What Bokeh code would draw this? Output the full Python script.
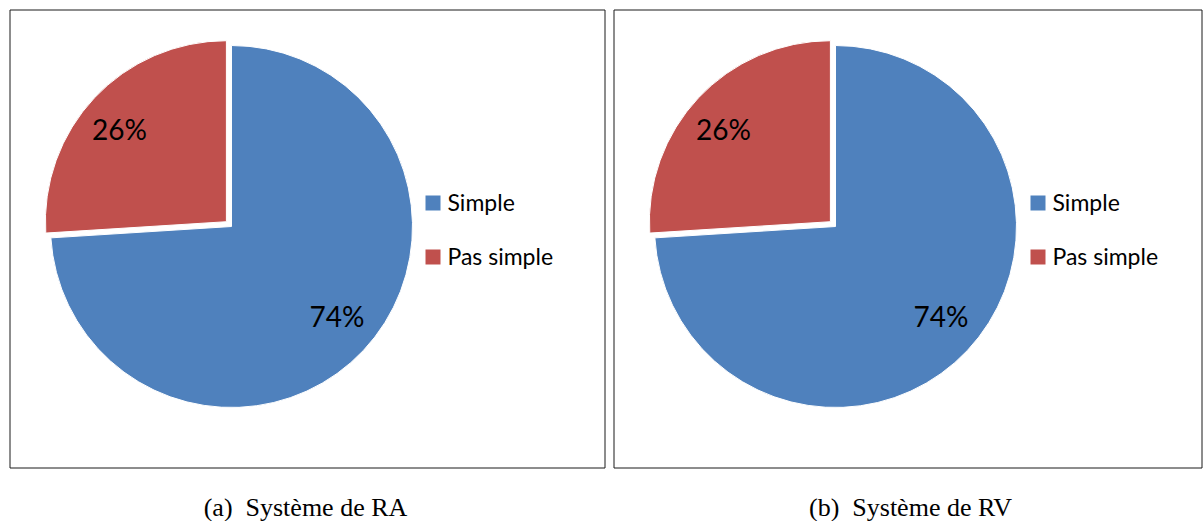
import math
from bokeh.plotting import figure
from bokeh.models import Range1d
from bokeh.core.properties import value
from bokeh.embed import file_html
from bokeh.resources import INLINE

# ---- data ----
categories = ["Simple", "Pas simple"]
values_ra = [74, 26]
values_rv = [74, 26]
labels_ra = ["74%", "26%"]
labels_rv = ["74%", "26%"]
colors = ["#4F81BD", "#C0504D"]
captions = ["(a)\u00a0\u00a0Système de RA", "(b)\u00a0\u00a0Système de RV"]

W, H = 1203, 521

def X(px):
    return px

def Y(py):
    return H - py

p = figure(width=W, height=H, x_range=Range1d(0, W), y_range=Range1d(0, H),
           output_backend="svg", toolbar_location=None, min_border=0)
p.axis.visible = False
p.grid.visible = False
p.outline_line_color = None
p.background_fill_color = "white"
p.border_fill_color = "white"

panels = [
    dict(left=9.5, right=604.5, cx=231, cy=226, vals=values_ra, labs=labels_ra,
         lab_pos=[(336.5, 315), (119, 128)], leg_x=432.5, cap_x=305, cap=captions[0]),
    dict(left=613.5, right=1201.5, cx=835, cy=226, vals=values_rv, labs=labels_rv,
         lab_pos=[(940.5, 315), (723, 128)], leg_x=1037.5, cap_x=910, cap=captions[1]),
]

R = 181
explode = [0, 7]
font = value("Lato")

for pn in panels:
    # border
    p.quad(left=[X(pn["left"])], right=[X(pn["right"])], top=[Y(9.5)], bottom=[Y(467.5)],
           fill_color=None, line_color="#1a1a1a", line_width=1)
    total = sum(pn["vals"])
    cum = 0.0
    for i, v in enumerate(pn["vals"]):
        frac = v / total
        end = math.pi / 2 - cum * 2 * math.pi
        start = end - frac * 2 * math.pi
        mid = (start + end) / 2
        cx = X(pn["cx"]) + explode[i] * math.cos(mid)
        cy = Y(pn["cy"]) + explode[i] * math.sin(mid)
        p.wedge(x=[cx], y=[cy], radius=R, start_angle=[start], end_angle=[end],
                fill_color=colors[i], line_color="white", line_width=1)
        cum += frac
        lx, ly = pn["lab_pos"][i]
        p.text(x=[X(lx)], y=[Y(ly)], text=[pn["labs"][i]], text_font=font,
               text_font_size="28px", text_align="center", text_baseline="alphabetic",
               text_color="black")
    # legend
    for j, cat in enumerate(categories):
        sy = 202.5 + j * 54
        p.rect(x=[X(pn["leg_x"])], y=[Y(sy)], width=15, height=15,
               fill_color=colors[j], line_color=None)
        p.text(x=[X(pn["leg_x"] + 14.5)], y=[Y(sy - 1.5)], text=[cat], text_font=font,
               text_font_size="23px", text_align="left", text_baseline="alphabetic",
               text_color="black")
    # caption
    p.text(x=[X(pn["cap_x"])], y=[Y(506.5)], text=[pn["cap"]],
           text_font=value("Liberation Serif"), text_font_size="26px",
           text_align="center", text_baseline="alphabetic", text_color="black")

open("out.html", "w").write(file_html(p, INLINE))
